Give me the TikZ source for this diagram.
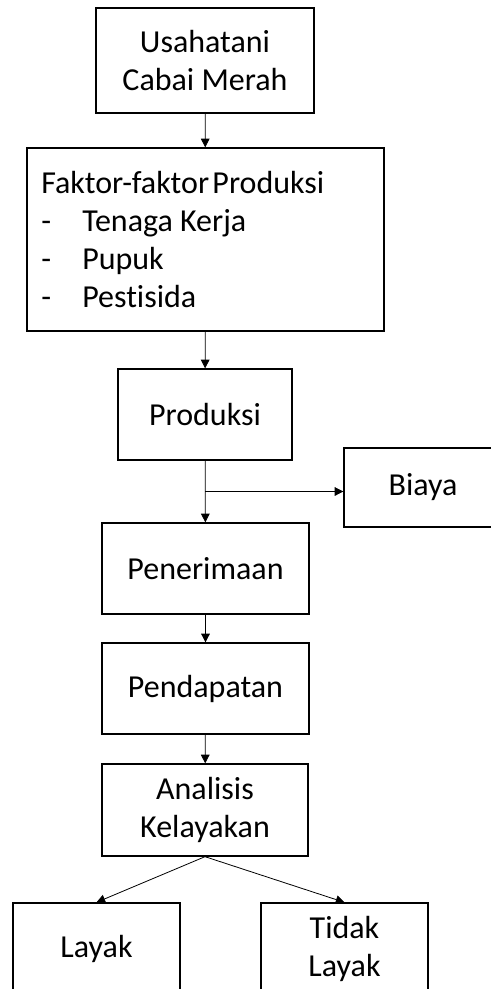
\documentclass[tikz,border=0pt]{standalone}
\usepackage{fontspec}
\setmainfont{Carlito}[Ligatures=NoCommon]
\usetikzlibrary{arrows.meta, calc}
\begin{document}
\begin{tikzpicture}[x=0.75pt, y=-0.75pt]
        % Define styles
        \tikzset{
            box/.style={draw, line width=1pt, inner sep=0pt, align=center,
                        font=\fontsize{24}{28.5}\selectfont},
            txt/.style={inner sep=0pt, align=left,
                        font=\fontsize{24}{28.5}\selectfont},
            flow/.style={-{Triangle[length=6.5pt, width=6.5pt]}, line width=0.6pt}
        }
        % Frame of the picture (boxes at the edges are cut off)
        \useasboundingbox (0,0) rectangle (491,989);
        \clip (0,0) rectangle (491,989);
        % Main column
        \node[box, minimum width=163.5pt, minimum height=78.75pt] (usaha) at (205,60.5) {Usahatani\\Cabai Merah};
        \node[box, minimum width=267.75pt, minimum height=137.25pt] (faktor) at (205.5,239.5) {};
        \node[txt, anchor=north west] (faktortxt) at (41,171)
            {Faktor-faktor\hspace{2.5pt}Produksi\\
             \makebox[30.75pt][l]{-}Tenaga Kerja\\
             \makebox[30.75pt][l]{-}Pupuk\\
             \makebox[30.75pt][l]{-}Pestisida};
        \node[box, minimum width=130.5pt, minimum height=68.25pt] (produksi) at (205,414.5) {Produksi};
        \node[box, minimum width=118.5pt, minimum height=59.25pt] (biaya) at (423,487.5) {Biaya};
        \node[box, minimum width=155.25pt, minimum height=68.25pt] (penerimaan) at (205.5,568.5) {Penerimaan};
        \node[box, minimum width=155.25pt, minimum height=68.25pt] (pendapatan) at (205.5,688.5) {Pendapatan};
        \node[box, minimum width=154.5pt, minimum height=69pt] (analisis) at (205,810) {Analisis\\Kelayakan};
        % Results
        \node[box, minimum width=125.25pt, minimum height=69pt] (layak) at (96.5,949) {Layak};
        \node[box, minimum width=125.25pt, minimum height=69pt] (tidak) at (344.5,949) {Tidak\\Layak};
        % Arrows
        \draw[flow] (usaha) -- (faktor);
        \draw[flow] (faktor) -- (produksi);
        \draw[flow] (produksi) -- (penerimaan);
        \coordinate (split) at ($(produksi.south)!0.5!(penerimaan.north)$);
        \draw[flow] (split) -- (split -| biaya.west);
        \draw[flow] (penerimaan) -- (pendapatan);
        \draw[flow] (pendapatan) -- (analisis);
        \draw[flow] (analisis.south) -- (layak.north);
        \draw[flow] (analisis.south) -- (tidak.north);
\end{tikzpicture}
\end{document}
